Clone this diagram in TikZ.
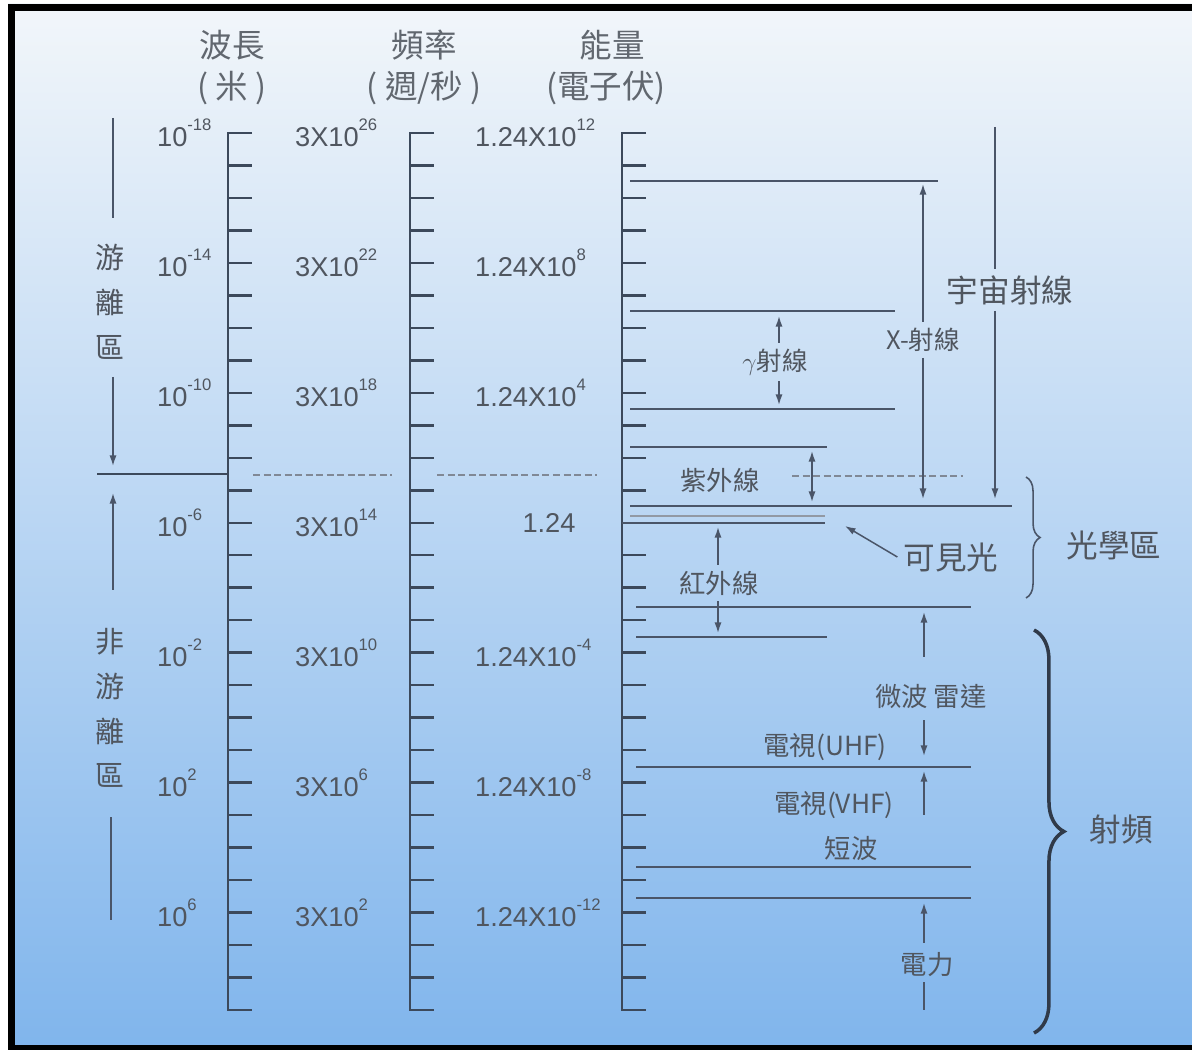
\documentclass[tikz,border=0pt]{standalone}
\usepackage{fontspec}
\setmainfont{Liberation Sans}
\newfontfamily\cjk{Noto Sans CJK TC}
\usetikzlibrary{arrows.meta,decorations.pathreplacing}
\definecolor{bgtop}{HTML}{F2F6FA}
\definecolor{bgmid}{HTML}{C2DBF3}
\definecolor{bgbot}{HTML}{80B5EC}
\definecolor{axiscol}{HTML}{3C495B}
\definecolor{bandcol}{HTML}{4A5568}
\definecolor{txtcol}{HTML}{50565F}
\newcommand\expo[1]{\raisebox{1.1ex}{\fontsize{9.5}{10}\selectfont#1}}
\begin{document}
\begin{tikzpicture}[x=0.02cm,y=-0.02cm,>={Latex[length=6pt,width=4pt]},
  axis/.style={draw=axiscol,line width=1.4pt},
  band/.style={draw=bandcol,line width=1.3pt},
  arr/.style={draw=bandcol,line width=0.85pt},
  guide/.style={draw=bandcol!70,line width=0.6pt,dash pattern=on 4pt off 2pt},
  num/.style={text=txtcol,font=\fontsize{15.5}{18}\selectfont,inner sep=1pt},
  head/.style={text=txtcol!90,font=\cjk\fontsize{18.5}{22}\selectfont},
  big/.style={text=txtcol,font=\cjk\fontsize{18}{21}\selectfont},
  mid/.style={text=txtcol,font=\cjk\fontsize{15}{18}\selectfont},
  small/.style={text=txtcol,font=\cjk\fontsize{14.5}{17}\selectfont},
  vert/.style={text=txtcol,font=\cjk\fontsize{16.5}{25.5}\selectfont,align=center}]
\useasboundingbox (0,0) rectangle (1192,1050);
\fill[white] (0,0) rectangle (1192,1050);
\shade[top color=bgtop,middle color=bgmid,bottom color=bgbot] (8,4) rectangle (1192,1050);
\fill[black] (8,4) rectangle (1192,11);
\fill[black] (8,4) rectangle (15,1050);
\fill[black] (8,1045) rectangle (1192,1050);
% three scales
\foreach \ax in {228,410,622}{
  \draw[axis] (\ax+24,133) -- (\ax,133) -- (\ax,1010) -- (\ax+24,1010);
  \foreach \k in {1,...,26}
    \draw[axis] (\ax,{133+\k*32.48}) -- ++(24,0);
}
\node[head] (wlh) at (232,45) {波長};
\node[head] (wlu) at (232,88) {( 米 )};
\node[head] (fqh) at (424,45) {頻率};
\node[head] (fqu) at (424,88) {( 週/秒 )};
\node[head] (enh) at (612,45) {能量};
\node[head] (enu) at (606,88) {(電子伏)};
\foreach \e [count=\i from 0] in {-18,-14,-10,-6,-2,2,6}
  \node[num,anchor=west] (wl\i) at (155,{133+\i*129.9}) {10\expo{\e}};
\foreach \e [count=\i from 0] in {26,22,18,14,10,6,2}
  \node[num,anchor=west] (fq\i) at (293,{133+\i*129.9}) {3X10\expo{\e}};
\foreach \e/\i in {12/0,8/1,4/2,-4/4,-8/5,-12/6}
  \node[num,anchor=west] (en\i) at (473,{133+\i*129.9}) {1.24X10\expo{\e}};
\node[num] (en3) at (549,523) {1.24};
% ionizing / non-ionizing
\node[vert] (ion) at (110,302) {游\\離\\區};
\coordinate (ia) at (113,118);
\coordinate (ib) at (113,218);
\coordinate (ic) at (113,377);
\coordinate (id) at (113,466);
\draw[arr] (ia) -- (ib);
\draw[arr,->] (ic) -- (id);
\draw[axis,line width=1.6pt] (97,474) -- (228,474);
\node[vert] (nonion) at (110,708) {非\\游\\離\\區};
\coordinate (na) at (113,493);
\coordinate (nb) at (113,590);
\coordinate (nc) at (111,817);
\coordinate (nd) at (111,920);
\draw[arr,<-] (na) -- (nb);
\draw[arr] (nc) -- (nd);
\draw[guide] (253,475) -- (392,475);
\draw[guide] (437,475) -- (597,475);
\draw[guide] (792,476) -- (963,476);
% bands
\foreach \xa/\xb/\yy in {630/938/181,630/895/311,630/895/409,630/827/447,630/1012/506,
  622/825/523,636/971/607,636/827/637,636/971/767,636/971/867,636/971/898}
  \draw[band] (\xa,\yy) -- (\xb,\yy);
\draw[band,draw=bandcol!60] (630,516) -- (825,516);
% cosmic rays
\node[big] (cosmic) at (1010,290) {宇宙射線};
\coordinate (ca) at (995,127);
\coordinate (cb) at (995,499);
\draw[arr] (ca) -- (ca |- cosmic.north);
\draw[arr,->] (cb |- cosmic.south) -- (cb);
% x rays
\node[small] (xray) at (923,340) {X-射線};
\coordinate (xa) at (923,184);
\coordinate (xb) at (923,499);
\draw[arr,<-] (xa) -- (xray);
\draw[arr,->] (xray) -- (xb);
% gamma rays
\node[small] (gamma) at (775,362) {$\gamma$射線};
\coordinate (ga) at (779,316);
\coordinate (gb) at (779,405);
\draw[arr,<-] (ga) -- (ga |- gamma.north);
\draw[arr,->] (gb |- gamma.south) -- (gb);
% ultraviolet
\node[mid] (uv) at (720,480) {紫外線};
\coordinate (ua) at (812,451);
\coordinate (ub) at (812,502);
\draw[arr,<->] (ua) -- (ub);
% visible
\node[big] (vis) at (951,557) {可見光};
\coordinate (vt) at (845,526);
\draw[arr,->] (vis.west) -- (vt);
% infrared
\node[mid] (ir) at (719,583) {紅外線};
\coordinate (ra) at (718,527);
\coordinate (rb) at (718,633);
\draw[arr,<-] (ra) -- (ra |- ir.north);
\draw[arr,->] (rb |- ir.south) -- (rb);
% radio
\node[mid] (mw) at (931,697) {微波 雷達};
\coordinate (ma) at (924,612);
\coordinate (mb) at (924,657);
\coordinate (mc) at (924,720);
\coordinate (md) at (924,756);
\draw[arr,<-] (ma) -- (mb);
\draw[arr,->] (mc) -- (md);
\node[mid] (uhf) at (825,747) {電視(UHF)};
\node[mid] (vhf) at (834,805) {電視(VHF)};
\coordinate (va) at (924,771);
\coordinate (vb) at (924,815);
\draw[arr,<-] (va) -- (vb);
\node[mid] (sw) at (851,848) {短波};
\node[mid] (pw) at (927,965) {電力};
\coordinate (pa) at (924,903);
\coordinate (pb) at (924,943);
\coordinate (pc) at (924,982);
\coordinate (pd) at (924,1010);
\draw[arr,<-] (pa) -- (pb);
\draw[arr] (pc) -- (pd);
% braces
\draw[draw=bandcol,line width=0.9pt,decorate,decoration={brace,amplitude=8pt}] (1026,477) -- (1026,598);
\node[big] (opt) at (1114,545) {光學區};
\draw[draw=axiscol!80!black,line width=2pt,decorate,decoration={brace,amplitude=17pt}] (1034,630) -- (1034,1033);
\node[big] (rf) at (1121,830) {射頻};
\end{tikzpicture}
\end{document}
